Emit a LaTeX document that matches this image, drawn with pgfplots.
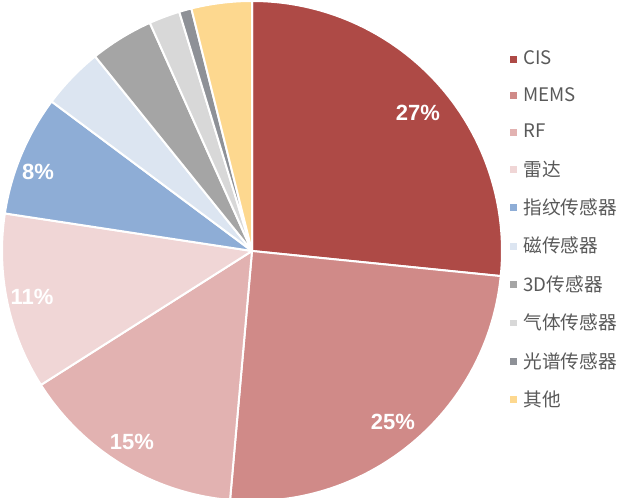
\documentclass[border=0pt]{standalone}
\usepackage{fontspec}
\setmainfont{Liberation Sans}
\newfontfamily\cjk{Noto Sans CJK SC}
\usepackage{pgfplots}
\usepackage{pgfplotstable}
\pgfplotsset{compat=1.18}
\definecolor{c0}{HTML}{AE4A46}
\definecolor{c1}{HTML}{D08A88}
\definecolor{c2}{HTML}{E2B2B1}
\definecolor{c3}{HTML}{F0D6D6}
\definecolor{c4}{HTML}{8EADD6}
\definecolor{c5}{HTML}{DCE5F1}
\definecolor{c6}{HTML}{A5A5A5}
\definecolor{c7}{HTML}{D8D8D8}
\definecolor{c8}{HTML}{8E9197}
\definecolor{c9}{HTML}{FDD88F}
\definecolor{legtxt}{HTML}{595959}

\pgfplotstableread{
name val
CIS 26.6
MEMS 24.8
RF 14.6
Radar 11.4
Finger 7.8
Mag 4.0
3D 4.1
Gas 2.0
Spec 0.8
Other 3.9
}\piedata

\begin{document}
\begin{tikzpicture}
\useasboundingbox (0,0) rectangle (480pt,373.5pt);
% cumulative angles from the values
\def\cum{0}
\pgfplotsforeachungrouped \i in {0,...,9}{%
  \pgfplotstablegetelem{\i}{val}\of\piedata
  \let\v\pgfplotsretval
  \pgfmathsetmacro\a{90-3.6*\cum}%
  \pgfmathsetmacro\cum{\cum+\v}%
  \pgfmathsetmacro\b{90-3.6*\cum}%
  \expandafter\xdef\csname sA\i\endcsname{\a}%
  \expandafter\xdef\csname sB\i\endcsname{\b}%
}
\begin{axis}[
  at={(0,0)}, anchor=south west,
  scale only axis, width=480pt, height=373.5pt,
  xmin=0, xmax=640, ymin=0, ymax=498,
  hide axis, clip=false,
  legend style={at={(axis cs:510,450)}, anchor=north west, draw=none, fill=none,
    font=\cjk\fontsize{14pt}{16pt}\selectfont, text=legtxt,
    row sep=11.5pt, inner sep=0pt,
    nodes={inner xsep=5.5pt, inner ysep=2pt}},
  legend cell align=left,
]
\pgfplotsinvokeforeach{0,...,9}{
  \fill[c#1, draw=white, line width=1.5pt, line join=round]
    (axis cs:252,247) --
    (axis cs:{252+250*cos(\csname sA#1\endcsname)},{247+250*sin(\csname sA#1\endcsname)})
    arc[start angle=\csname sA#1\endcsname, end angle=\csname sB#1\endcsname, radius=187.5pt]
    -- cycle;
}
\addlegendimage{only marks, mark=square*, mark size=2.2pt, color=c0}
\addlegendentry{CIS}
\addlegendimage{only marks, mark=square*, mark size=2.2pt, color=c1}
\addlegendentry{MEMS}
\addlegendimage{only marks, mark=square*, mark size=2.2pt, color=c2}
\addlegendentry{RF}
\addlegendimage{only marks, mark=square*, mark size=2.2pt, color=c3}
\addlegendentry{雷达}
\addlegendimage{only marks, mark=square*, mark size=2.2pt, color=c4}
\addlegendentry{指纹传感器}
\addlegendimage{only marks, mark=square*, mark size=2.2pt, color=c5}
\addlegendentry{磁传感器}
\addlegendimage{only marks, mark=square*, mark size=2.2pt, color=c6}
\addlegendentry{3D传感器}
\addlegendimage{only marks, mark=square*, mark size=2.2pt, color=c7}
\addlegendentry{气体传感器}
\addlegendimage{only marks, mark=square*, mark size=2.2pt, color=c8}
\addlegendentry{光谱传感器}
\addlegendimage{only marks, mark=square*, mark size=2.2pt, color=c9}
\addlegendentry{其他}
\begin{scope}[every node/.style={text=white, font=\bfseries\fontsize{16.5pt}{18pt}\selectfont}]
\node at (axis cs:418,385) {27\%};
\node at (axis cs:393,76) {25\%};
\node at (axis cs:132,56) {15\%};
\node at (axis cs:32,201) {11\%};
\node at (axis cs:38,326) {8\%};
\end{scope}
\end{axis}
\end{tikzpicture}
\end{document}
